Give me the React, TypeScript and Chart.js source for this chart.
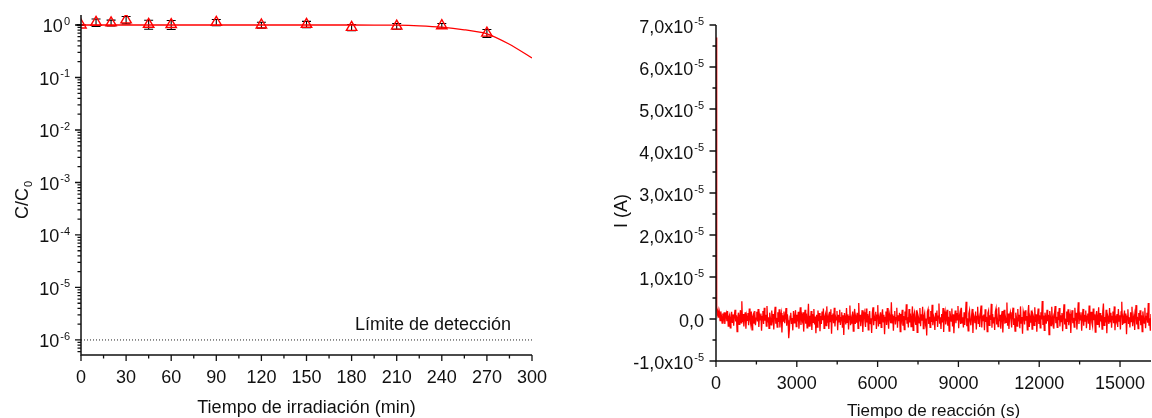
import React, { useEffect, useRef } from "react";
import { Chart, registerables } from "chart.js";

Chart.register(...registerables);

const FONT_FAMILY = '"Liberation Sans", Arial, Helvetica, sans-serif';
const TEXT_COLOR = "#111";
const AXIS_COLOR = "#111";
const RED = "#ff0000";

// ---------- Left panel: relative concentration under irradiation ----------
const irradiationMin = [0, 10, 20, 30, 45, 60, 90, 120, 150, 180, 210, 240, 270];
const ratioC = [1.0, 1.12, 1.1, 1.25, 1.03, 1.02, 1.12, 1.0, 1.03, 0.9, 0.95, 0.97, 0.7];
const ratioErr = [0.02, 0.18, 0.14, 0.2, 0.2, 0.2, 0.15, 0.13, 0.14, 0.12, 0.12, 0.1, 0.12];
const fitMin = [0, 180, 210, 225, 240, 255, 270, 285, 300];
const fitRatio = [1, 1, 0.99, 0.965, 0.91, 0.81, 0.68, 0.43, 0.236];
const detectionLimit = 1e-6;
const detectionLabel = "Límite de detección";
const irradiationTicks = [0, 30, 60, 90, 120, 150, 180, 210, 240, 270, 300];
const irradiationMinorTicks = [15, 45, 75, 105, 135, 165, 195, 225, 255, 285];
const ratioExponents = [0, -1, -2, -3, -4, -5, -6];
const ratioMin = 5.17e-7;
const ratioMax = 1.55;

// ---------- Right panel: current during the reaction ----------
const spikeCurrentA = 6.7e-5;
const reactionSpanS = 16150;
// current after the initial spike, in µA
const currentMicroA = [
  2.6, 1.1, 2.0, 0.3, 1.5, -0.4, 1.8, 0.7, -1.0, 1.3, 0.1, 1.6, -1.2, 0.8, 1.4, -0.5, 1.9, -1.7, 0.5, 1.0,
  -2.1, 0.2, 1.7, -0.8, 1.1, -1.6, 0.8, 2.2, -0.6, 0.9, -3.0, 0.3, 1.5, -1.3, 0.6, 2.1, -0.9, 4.2, -0.7, 1.2,
  -1.8, 0.4, 1.6, -2.3, 0.7, -0.3, 1.4, -1.5, 2.5, 0.0, -1.1, 1.8, -2.6, 0.5, 1.1, -1.0, 1.9, -1.5, 0.2, 1.7,
  -0.6, 2.4, -1.9, 0.9, -0.2, 1.3, -2.8, 0.6, 1.9, -1.2, 2.7, -0.4, 1.0, -1.7, 3.1, -0.8, 0.4, -2.2, 1.5, 0.2,
  -1.4, 2.0, -0.1, 1.2, -2.5, 0.8, 2.9, -1.1, 0.3, -1.9, 1.6, -0.7, 2.3, -2.0, 0.5, 1.4, -3.2, 0.9, -0.5, 1.8,
  -1.0, 0.6, 2.6, -1.6, 1.1, -0.3, -4.6, -2.4, 0.7, 1.5, -1.2, 0.2, -2.7, 1.9, -0.9, 0.4, 2.1, -1.8, 1.0, -0.6,
  1.7, -2.3, 0.3, 2.8, -1.4, 0.9, -0.2, 1.6, -3.0, 0.5, 2.2, -1.1, 1.3, -2.1, 0.0, 3.6, -1.7, 0.8, -0.4, 1.9,
  -2.6, 1.2, -0.8, 2.4, -1.3, 0.6, -3.4, 1.0, -1.9, 2.0, -0.5, 1.4, -2.9, 0.7, -1.2, 1.8, -0.3, 2.5, -2.2, 0.4,
  1.1, -1.6, 3.0, -0.9, 0.2, -2.4, 1.7, -0.6, 2.3, -3.5, 0.8, 1.3, -1.0, 2.7, -1.8, 0.5, -0.2, 1.9, -2.7, 1.0,
  -0.7, 2.2, -1.4, 0.3, 1.6, -2.1, 0.9, -3.8, 1.4, 0.1, -1.3, 2.6, -0.8, 1.1, -2.5, 0.6, 3.2, -1.5, 0.0, -1.1,
  1.8, -2.9, 0.7, 2.4, -1.2, 0.4, -0.9, 1.5, -2.2, 3.8, -0.6, 1.0, -1.7, 0.3, 2.1, -3.1, 0.8, 1.6, -0.4, -1.9,
  2.5, -0.8, 1.2, -2.6, 0.5, 1.9, -1.1, 0.2, -3.3, 1.4, 2.8, -1.5, 0.6, -0.3, 1.7, -2.4, 0.9, 3.3, -1.8, 0.1,
  -1.2, 1.6, -2.0, 0.8, 2.3, -0.7, 1.0, -3.6, 0.4, 1.8, -1.4, 2.6, -0.2, -2.3, 1.3, 0.5, -1.0, 4.0, -0.9, 1.1,
  -2.8, 0.6, 1.9, -1.3, 0.3, 2.7, -2.1, 0.9, -0.5, 1.5, -3.0, 1.2, 0.0, 2.2, -1.6, 0.7, -2.5, 1.8, -0.3, 3.5,
  -1.1, 0.4, -2.0, 2.4, -0.8, 1.3, -1.8, 0.2, 3.0, -2.7, 0.9, 1.6, -0.6, -1.4, 2.1, -3.2, 1.0, 0.3, -0.9, 2.6,
  -1.7, 1.1, -0.4, 2.9, -2.3, 0.6, 1.4, -1.0, 0.1, -3.9, 1.7, 2.3, -1.2, 0.5, -2.0, 1.9, -0.7, 3.4, -1.5, 0.8,
  0.2, -2.6, 1.5, -0.3, 2.0, -1.9, 0.7, 3.7, -1.1, 0.4, -2.4, 1.2, -0.8, 2.6, -3.1, 0.9, 1.8, -1.3, 0.0, 2.2,
  -1.6, 0.5, -2.9, 1.9, 0.8, -0.5, 2.5, -1.8, 1.1, -3.4, 0.3, 2.0, -1.0, 1.4, -0.2, 3.1, -2.2, 0.6, 1.5, -1.2,
  2.7, -0.9, 0.4, -2.0, 1.6, -1.4, 0.9, 4.1, -1.7, 0.2, -2.8, 1.3, 2.1, -0.6, -1.5, 0.7, 2.4, -3.3, 1.0, 0.3,
  -1.0, 1.8, -2.5, 0.6, 2.9, -1.2, 0.1, -1.9, 1.5, 3.2, -2.0, 0.8, -0.4, 1.1, -2.7, 2.3, -0.7, 0.5, -3.0, 1.4,
  2.0, -1.5, 0.9, -0.2, 3.6, -2.1, 1.2, -0.9, 0.4, -2.6, 1.7, 2.5, -1.3, 0.0, -1.8, 2.8, -0.5, 1.0, -2.3, 0.7,
  1.9, -3.2, 0.6, 2.2, -1.1, 0.3, -0.8, 3.9, -1.6, 1.3, -2.4, 0.8, 1.6, -0.3, -2.0, 1.1, 2.7, -1.4, 0.2, -2.9,
  1.5, 0.4, -1.7, 2.4, -0.6, 1.0, -2.2, 3.0, -1.0, 0.5, -3.5, 1.8, 0.9, -1.3, 2.1, -0.4, 0.7, -2.6, 1.4, 3.3,
  -1.9, 0.2, -0.9, 2.0, -2.4, 1.2, 0.6, -1.5, 2.8, -0.7, 1.1, -3.0, 0.4, 2.5, -1.2, 0.9, -2.1, 1.6, -0.1, 4.3,
  -1.4, 0.8, -2.7, 1.5, 0.3, -1.1, 2.2, -0.5, 1.0, -3.7, 1.9, 0.6, -1.6, 2.9, -0.8, 0.2, -2.3, 1.3, 3.1, -1.0,
  0.5, -2.0, 1.7, -0.3, 2.6, -1.8, 0.9, -0.6, 1.4, -2.9, 0.7, 3.5, -1.3, 0.1, -2.2, 1.8, -0.7, 2.3, -1.5, 0.4,
  1.2, -3.3, 0.8, 2.1, -1.0, 0.3, -1.9, 2.7, -0.4, 1.5, -2.5, 0.6, 4.0, -1.2, 0.9, -0.2, 1.6, -2.8, 0.5, 2.4,
  -1.6, 1.0, -0.5, 2.0, -2.2, 0.7, 1.3, -1.1, 3.2, -2.6, 0.4, 1.7, -0.9, -1.7, 2.5, -0.3, 1.1, -3.1, 0.8, 1.9,
  -1.3, 0.2, 2.8, -2.0, 1.4, -0.6, 0.9, -2.4, 1.6, 3.7, -1.5, 0.5, -0.8, 2.2, -3.4, 1.0, 0.3, -1.2, 2.6, -0.7,
  1.5, -2.1, 0.6, 1.8, -1.0, 3.0, -2.7, 0.8, -0.3, 1.2, -1.9, 2.4, -0.5, 0.9, -2.5, 1.7, 4.1, -1.4, 0.2, -1.1,
  2.0, -0.8, 1.3, -3.6, 0.7, 2.3, -1.2, 0.4, -2.0, 1.6, -0.6, 2.9, -1.7, 0.1, 1.1, -2.6, 0.8, 3.3, -1.3, 0.5,
  -2.3, 1.4, -0.4, 2.1, -1.5, 0.9, -3.0, 1.8, 0.3, -1.0, 2.7, -2.2, 0.6, 1.5, -0.9, 3.8, -1.6, 0.2, -2.8, 1.2,
];
const currentTicksE5 = [-1, 0, 1, 2, 3, 4, 5, 6, 7];
const currentMinorTicksE5 = [-0.5, 0.5, 1.5, 2.5, 3.5, 4.5, 5.5, 6.5];
const reactionTicks = [0, 3000, 6000, 9000, 12000, 15000];
const reactionMinorTicks = [1500, 4500, 7500, 10500, 13500];

// ---------- drawing helpers ----------
const font = (px: number) => `${px}px ${FONT_FAMILY}`;

function drawAxesLines(ctx: CanvasRenderingContext2D, area: any) {
  ctx.save();
  ctx.strokeStyle = AXIS_COLOR;
  ctx.lineWidth = 1.5;
  ctx.beginPath();
  ctx.moveTo(area.left, area.top);
  ctx.lineTo(area.left, area.bottom);
  ctx.lineTo(area.right, area.bottom);
  ctx.stroke();
  ctx.restore();
}

function drawXTicks(ctx: CanvasRenderingContext2D, scale: any, area: any, values: number[], len: number) {
  ctx.save();
  ctx.strokeStyle = AXIS_COLOR;
  ctx.lineWidth = 1.3;
  ctx.beginPath();
  values.forEach((v) => {
    const x = scale.getPixelForValue(v);
    ctx.moveTo(x, area.bottom);
    ctx.lineTo(x, area.bottom + len);
  });
  ctx.stroke();
  ctx.restore();
}

function drawYTicks(ctx: CanvasRenderingContext2D, scale: any, area: any, values: number[], len: number) {
  ctx.save();
  ctx.strokeStyle = AXIS_COLOR;
  ctx.lineWidth = 1.3;
  ctx.beginPath();
  values.forEach((v) => {
    const y = scale.getPixelForValue(v);
    ctx.moveTo(area.left, y);
    ctx.lineTo(area.left - len, y);
  });
  ctx.stroke();
  ctx.restore();
}

function drawXLabels(ctx: CanvasRenderingContext2D, scale: any, values: number[], baseline: number) {
  ctx.save();
  ctx.fillStyle = TEXT_COLOR;
  ctx.font = font(18);
  ctx.textAlign = "center";
  ctx.textBaseline = "alphabetic";
  values.forEach((v) => ctx.fillText(String(v), scale.getPixelForValue(v), baseline));
  ctx.restore();
}

// Right-aligned label with an optional superscript
function drawSupLabel(
  ctx: CanvasRenderingContext2D,
  xRight: number,
  baseline: number,
  base: string,
  sup: string,
  supBaseline: number
) {
  ctx.save();
  ctx.fillStyle = TEXT_COLOR;
  ctx.textAlign = "left";
  ctx.textBaseline = "alphabetic";
  ctx.font = font(11);
  const ws = sup ? ctx.measureText(sup).width : 0;
  ctx.font = font(18);
  const wb = ctx.measureText(base).width;
  const gap = sup ? 1 : 0;
  const x0 = xRight - ws - gap - wb;
  ctx.fillText(base, x0, baseline);
  if (sup) {
    ctx.font = font(11);
    ctx.fillText(sup, x0 + wb + gap, supBaseline);
  }
  ctx.restore();
}

function drawCentered(ctx: CanvasRenderingContext2D, text: string, x: number, baseline: number, px: number) {
  ctx.save();
  ctx.fillStyle = TEXT_COLOR;
  ctx.font = font(px);
  ctx.textAlign = "center";
  ctx.textBaseline = "alphabetic";
  ctx.fillText(text, x, baseline);
  ctx.restore();
}

// Rotated (bottom-to-top) axis title with an optional subscript
function drawRotatedTitle(
  ctx: CanvasRenderingContext2D,
  cx: number,
  cy: number,
  base: string,
  sub: string
) {
  ctx.save();
  ctx.translate(cx, cy);
  ctx.rotate(-Math.PI / 2);
  ctx.fillStyle = TEXT_COLOR;
  ctx.textAlign = "left";
  ctx.textBaseline = "alphabetic";
  ctx.font = font(18);
  const wb = ctx.measureText(base).width;
  ctx.font = font(11);
  const ws = sub ? ctx.measureText(sub).width : 0;
  const x0 = -(wb + ws + (sub ? 1 : 0)) / 2;
  ctx.font = font(18);
  ctx.fillText(base, x0, 6.5);
  if (sub) {
    ctx.font = font(11);
    ctx.fillText(sub, x0 + wb + 1, 10.5);
  }
  ctx.restore();
}

// ---------- left chart ----------
const leftPlugin = {
  id: "leftPanelDecor",
  beforeDatasetsDraw(chart: any) {
    const { ctx, scales } = chart;
    const x = scales.x;
    const y = scales.y;
    ctx.save();
    ctx.strokeStyle = "#000";
    ctx.lineWidth = 1.1;
    ctx.beginPath();
    irradiationMin.forEach((t, i) => {
      const px = x.getPixelForValue(t);
      const top = y.getPixelForValue(ratioC[i] + ratioErr[i]);
      const bot = y.getPixelForValue(ratioC[i] - ratioErr[i]);
      ctx.moveTo(px, top);
      ctx.lineTo(px, bot);
      ctx.moveTo(px - 4.5, top);
      ctx.lineTo(px + 4.5, top);
      ctx.moveTo(px - 4.5, bot);
      ctx.lineTo(px + 4.5, bot);
    });
    ctx.stroke();
    ctx.restore();
  },
  afterDraw(chart: any) {
    const { ctx, chartArea: area, scales } = chart;
    const x = scales.x;
    const y = scales.y;
    drawAxesLines(ctx, area);

    drawXTicks(ctx, x, area, irradiationTicks, 6);
    drawXTicks(ctx, x, area, irradiationMinorTicks, 3.5);
    drawXLabels(ctx, x, irradiationTicks, area.bottom + 28);

    const majors = ratioExponents.map((e) => Math.pow(10, e));
    const minors: number[] = [];
    for (let e = -7; e <= 0; e++) {
      for (let m = 2; m <= 9; m++) {
        const v = m * Math.pow(10, e);
        if (v >= ratioMin && v <= ratioMax) minors.push(v);
      }
    }
    drawYTicks(ctx, y, area, majors, 6);
    drawYTicks(ctx, y, area, minors, 3.5);
    ratioExponents.forEach((e) => {
      const py = y.getPixelForValue(Math.pow(10, e));
      drawSupLabel(ctx, area.left - 11, py + 7.5, "10", String(e), py);
    });

    drawRotatedTitle(ctx, 21, 200, "C/C", "0");
    drawCentered(ctx, "Tiempo de irradiación (min)", (area.left + area.right) / 2, 413, 18);

    ctx.save();
    ctx.fillStyle = TEXT_COLOR;
    ctx.font = font(18);
    ctx.textAlign = "left";
    ctx.textBaseline = "alphabetic";
    ctx.fillText(detectionLabel, 355, 330);
    ctx.restore();
  },
};

function leftConfig(): any {
  return {
    type: "line",
    data: {
      datasets: [
        {
          label: "C/C0",
          data: irradiationMin.map((t, i) => ({ x: t, y: ratioC[i] })),
          showLine: false,
          pointStyle: "triangle",
          pointRadius: 6,
          pointBorderColor: RED,
          pointBackgroundColor: "rgba(255,255,255,0)",
          pointBorderWidth: 1.4,
          borderColor: RED,
        },
        {
          label: "ajuste",
          data: fitMin.map((t, i) => ({ x: t, y: fitRatio[i] })),
          borderColor: RED,
          borderWidth: 1.3,
          pointRadius: 0,
          tension: 0.2,
          fill: false,
        },
        {
          label: detectionLabel,
          data: [
            { x: 0, y: detectionLimit },
            { x: 300, y: detectionLimit },
          ],
          borderColor: "#222",
          borderWidth: 1,
          borderDash: [1, 2],
          pointRadius: 0,
          fill: false,
        },
      ],
    },
    options: {
      responsive: false,
      animation: false,
      devicePixelRatio: 1,
      layout: { padding: { left: 0, right: 38, top: 15, bottom: 0 } },
      plugins: { legend: { display: false }, tooltip: { enabled: false } },
      scales: {
        x: {
          type: "linear",
          min: 0,
          max: 300,
          ticks: { display: false },
          grid: { display: false },
          border: { display: false },
          afterFit: (s: any) => {
            s.height = 63;
          },
        },
        y: {
          type: "logarithmic",
          min: ratioMin,
          max: ratioMax,
          ticks: { display: false },
          grid: { display: false },
          border: { display: false },
          afterFit: (s: any) => {
            s.width = 81;
          },
        },
      },
    },
    plugins: [leftPlugin],
  };
}

// ---------- right chart ----------
const rightPlugin = {
  id: "rightPanelDecor",
  afterDraw(chart: any) {
    const { ctx, chartArea: area, scales } = chart;
    const x = scales.x;
    const y = scales.y;
    drawAxesLines(ctx, area);

    drawXTicks(ctx, x, area, reactionTicks, 6);
    drawXTicks(ctx, x, area, reactionMinorTicks, 3.5);
    drawXLabels(ctx, x, reactionTicks, area.bottom + 28);

    drawYTicks(ctx, y, area, currentTicksE5.map((v) => v * 1e-5), 6.5);
    drawYTicks(ctx, y, area, currentMinorTicksE5.map((v) => v * 1e-5), 3.5);
    currentTicksE5.forEach((v) => {
      const py = y.getPixelForValue(v * 1e-5);
      if (v === 0) {
        drawSupLabel(ctx, area.left - 12, py + 7.5, "0,0", "", py);
      } else {
        drawSupLabel(ctx, area.left - 12, py + 7.5, `${v},0x10`, "-5", py);
      }
    });

    drawRotatedTitle(ctx, 50, 211, "I (A)", "");
    drawCentered(ctx, "Tiempo de reacción (s)", (area.left + area.right) / 2, 416, 17);
  },
};

function rightConfig(): any {
  const step = reactionSpanS / currentMicroA.length;
  const points = [{ x: 0, y: spikeCurrentA }].concat(
    currentMicroA.map((v, i) => ({ x: (i + 1) * step, y: v * 1e-6 }))
  );
  return {
    type: "line",
    data: {
      datasets: [
        {
          label: "I (A)",
          data: points,
          borderColor: RED,
          borderWidth: 1.3,
          pointRadius: 0,
          tension: 0,
          fill: false,
        },
      ],
    },
    options: {
      responsive: false,
      animation: false,
      devicePixelRatio: 1,
      layout: { padding: { left: 0, right: 1, top: 25, bottom: 0 } },
      plugins: { legend: { display: false }, tooltip: { enabled: false } },
      scales: {
        x: {
          type: "linear",
          min: 0,
          max: reactionSpanS,
          ticks: { display: false },
          grid: { display: false },
          border: { display: false },
          afterFit: (s: any) => {
            s.height = 57;
          },
        },
        y: {
          type: "linear",
          min: -1e-5,
          max: 7e-5,
          ticks: { display: false },
          grid: { display: false },
          border: { display: false },
          afterFit: (s: any) => {
            s.width = 146;
          },
        },
      },
    },
    plugins: [rightPlugin],
  };
}

export default function App() {
  const leftRef = useRef<HTMLCanvasElement>(null);
  const rightRef = useRef<HTMLCanvasElement>(null);

  useEffect(() => {
    const left = new Chart(leftRef.current as HTMLCanvasElement, leftConfig());
    const right = new Chart(rightRef.current as HTMLCanvasElement, rightConfig());
    return () => {
      left.destroy();
      right.destroy();
    };
  }, []);

  return (
    <div
      style={{
        position: "fixed",
        left: 0,
        top: 0,
        width: 1152,
        height: 418,
        background: "#fff",
        overflow: "hidden",
      }}
    >
      <canvas
        ref={leftRef}
        width={570}
        height={418}
        style={{ position: "absolute", left: 0, top: 0, width: 570, height: 418 }}
      />
      <canvas
        ref={rightRef}
        width={582}
        height={418}
        style={{ position: "absolute", left: 570, top: 0, width: 582, height: 418 }}
      />
    </div>
  );
}
